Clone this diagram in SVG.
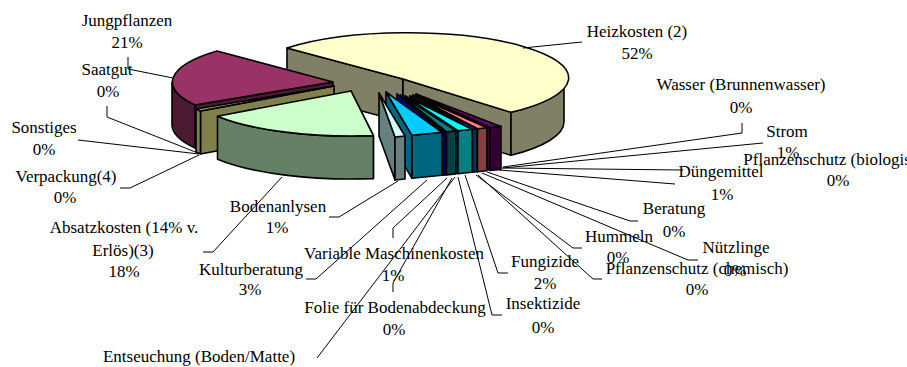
<svg xmlns="http://www.w3.org/2000/svg" width="907" height="367" viewBox="0 0 907 367">
<style>
.s{stroke:#000;stroke-width:1.6;stroke-linejoin:round}
.l{fill:none;stroke:#000;stroke-width:1}
text{font-family:"Liberation Serif","Times New Roman","DejaVu Serif",serif;font-size:17px;fill:#000;text-anchor:middle}
</style>
<rect width="907" height="367" fill="#fff"/>
<g id="heizkosten">
<path class="s" fill="#808066" d="M287,48 L403,79 L403,122 L287,91 Z"/>
<path class="s" fill="#808066" d="M403,79 L511,112.3 L511,155.3 L403,122 Z"/>
<path class="s" fill="#808066" d="M564,79 A161,45 0 0,1 511,112.3 L511,155.3 A161,45 0 0,0 564,122 Z"/>
<path class="s" fill="#FFFFCC" d="M403,79 L287,48 A161,45 0 1,1 511,112.3 Z"/>
<text x="637" y="37">Heizkosten (2)</text><text x="637" y="59">52%</text>
</g>
<g id="jungpflanzen">
<path class="s" fill="#4D1A33" d="M195,105 L333,82 L333,125 L195,148 Z"/>
<path class="s" fill="#4D1A33" d="M172,82 A161,45 0 0,0 195,105 L195,148 A161,45 0 0,1 172,125 Z"/>
<path class="s" fill="#993366" d="M333,82 L217,51 A161,45 0 0,0 195,105 Z"/>
<text x="127" y="26">Jungpflanzen</text><text x="127" y="48">21%</text>
</g>
<g id="verpackung">
<path class="s" fill="#80804D" d="M200.5,111 L334,86 L334,129 L200.5,154 Z"/>
<path class="s" fill="#80804D" d="M196,109 A161,45 0 0,0 200.5,111 L200.5,154 A161,45 0 0,1 196,152 Z"/>
<path class="s" fill="#A0A060" d="M334,86 L196,109 A161,45 0 0,0 200.5,111 Z"/>
<text x="66" y="182">Verpackung(4)</text><text x="65" y="203">0%</text>
</g>
<g id="saatgut"><text x="107" y="75">Saatgut</text><text x="108" y="97">0%</text></g>
<g id="sonstiges"><text x="44" y="133">Sonstiges</text><text x="44" y="155">0%</text></g>
<g id="absatzkosten">
<path class="s" fill="#668066" d="M351,91 L373.4,135.6 L373.4,178.6 L351,134 Z"/>
<path class="s" fill="#668066" d="M217.5,116.2 A161,45 0 0,0 373.4,135.6 L373.4,178.6 A161,45 0 0,1 217.5,159.2 Z"/>
<path class="s" fill="#CCFFCC" d="M351,91 L217.5,116.2 A161,45 0 0,0 373.4,135.6 Z"/>
<text x="124" y="233">Absatzkosten (14% v.</text><text x="123" y="256">Erlös)(3)</text><text x="124" y="277">18%</text>
</g>
<g id="wasser"><text x="741" y="90">Wasser (Brunnenwasser)</text><text x="741" y="113">0%</text></g>
<g id="strom">
<path class="s" fill="#330033" d="M416,94 L490,127.5 L490,170.5 L416,137 Z"/>
<path class="s" fill="#330033" d="M490,127.5 L501,126.4 L501,169.4 L490,170.5 Z"/>
<path class="s" fill="#660066" d="M416,94 L490,127.5 L501,126.4 Z"/>
<text x="787" y="137">Strom</text><text x="788" y="158">1%</text>
</g>
<g id="pflanzenschutz-biologisch">
<path class="s" fill="#804040" d="M413,95 L477.5,128.8 L477.5,171.8 L413,138 Z"/>
<path class="s" fill="#804040" d="M477.5,128.8 L487,127.8 L487,170.8 L477.5,171.8 Z"/>
<path class="s" fill="#FF8080" d="M413,95 L477.5,128.8 L487,127.8 Z"/>
<text x="838" y="165">Pflanzenschutz (biologisch)</text><text x="838" y="186">0%</text>
</g>
<g id="duengemittel">
<path class="s" fill="#003366" d="M410,96 L472.5,129.3 L472.5,172.3 L410,139 Z"/>
<path class="s" fill="#003366" d="M472.5,129.3 L477,128.8 L477,171.8 L472.5,172.3 Z"/>
<path class="s" fill="#0066CC" d="M410,96 L472.5,129.3 L477,128.8 Z"/>
<text x="721" y="177">Düngemittel</text><text x="722" y="200">1%</text>
</g>
<g id="beratung"><text x="674" y="214">Beratung</text><text x="674" y="237">0%</text></g>
<g id="nuetzlinge"><text x="736" y="253">Nützlinge</text><text x="735" y="276">0%</text></g>
<g id="pflanzenschutz-chemisch"><text x="697" y="274">Pflanzenschutz (chemisch)</text><text x="697" y="295">0%</text></g>
<g id="hummeln"><text x="619" y="242">Hummeln</text><text x="618" y="263">0%</text></g>
<g id="fungizide">
<path class="s" fill="#008080" d="M405,96 L458,130.7 L458,173.7 L405,139 Z"/>
<path class="s" fill="#008080" d="M458,130.7 L472,129.3 L472,172.3 L458,173.7 Z"/>
<path class="s" fill="#00FFFF" d="M405,96 L458,130.7 L472,129.3 Z"/>
<text x="545" y="267">Fungizide</text><text x="545" y="289">2%</text>
</g>
<g id="insektizide"><text x="543" y="309">Insektizide</text><text x="543" y="333">0%</text></g>
<g id="folie"><text x="395" y="313">Folie für Bodenabdeckung</text><text x="394" y="335">0%</text></g>
<g id="entseuchung">
<path class="s" fill="#004040" d="M401,95 L446.5,131.9 L446.5,174.9 L401,138 Z"/>
<path class="s" fill="#004040" d="M446.5,131.9 L456,130.9 L456,173.9 L446.5,174.9 Z"/>
<path class="s" fill="#008080" d="M401,95 L446.5,131.9 L456,130.9 Z"/>
<text x="199" y="362">Entseuchung (Boden/Matte)</text>
</g>
<g id="variable-maschinenkosten">
<path class="s" fill="#000080" d="M397,94 L443,132.2 L443,175.2 L397,137 Z"/>
<path class="s" fill="#000080" d="M443,132.2 L445.5,132 L445.5,175 L443,175.2 Z"/>
<path class="s" fill="#0000FF" d="M397,94 L443,132.2 L445.5,132 Z"/>
<text x="394" y="259">Variable Maschinenkosten</text><text x="393" y="281">1%</text>
</g>
<g id="kulturberatung">
<path class="s" fill="#006680" d="M386,92 L412,135.3 L412,178.3 L386,135 Z"/>
<path class="s" fill="#006680" d="M412,135.3 L442,132.3 L442,175.3 L412,178.3 Z"/>
<path class="s" fill="#00CCFF" d="M386,92 L412,135.3 L442,132.3 Z"/>
<text x="251" y="275">Kulturberatung</text><text x="250" y="295">3%</text>
</g>
<g id="bodenanalysen">
<path class="s" fill="#668080" d="M379,93 L395,137 L395,180 L379,136 Z"/>
<path class="s" fill="#668080" d="M395,137 L405,136 L405,179 L395,180 Z"/>
<path class="s" fill="#CCFFFF" d="M379,93 L395,137 L405,136 Z"/>
<text x="278" y="212">Bodenanlysen</text><text x="277" y="233">1%</text>
</g>
<g id="connectors">
<path class="l" d="M523,48 L582,42"/>
<path class="l" d="M742,123 L742,133 L503,167"/>
<path class="l" d="M763,143 L503,168"/>
<path class="l" d="M683,170 L502,168"/>
<path class="l" d="M675,184 L499,170"/>
<path class="l" d="M638,221 L630,221 L487,172"/>
<path class="l" d="M698,260 L688,260 L482,173"/>
<path class="l" d="M602,279 L593,279 L478,175"/>
<path class="l" d="M582,248 L573,248 L476,175"/>
<path class="l" d="M508,273 L498,273 L465,175"/>
<path class="l" d="M502,315 L492,315 L458,177"/>
<path class="l" d="M317,358 L455,177"/>
<path class="l" d="M393,292 L393,283 L452,178"/>
<path class="l" d="M393,238 L393,228 L447,178"/>
<path class="l" d="M306,279 L316,279 L427,180"/>
<path class="l" d="M329,217 L339,217 L398,181"/>
<path class="l" d="M203,252 L213,252 L282,177"/>
<path class="l" d="M120,188 L130,188 L199,155"/>
<path class="l" d="M78,140 L199,154"/>
<path class="l" d="M107,106 L107,117 L198,153"/>
<path class="l" d="M128,57 L128,69 L173,78"/>
</g>
</svg>
